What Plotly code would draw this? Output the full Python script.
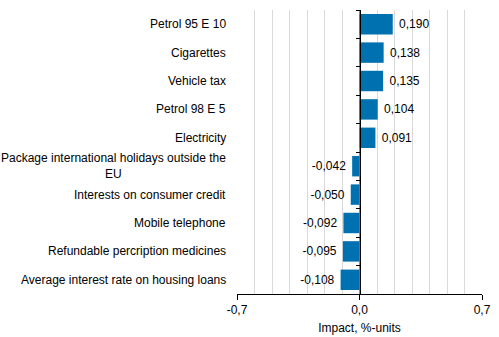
import plotly.graph_objects as go

categories = [
    "Petrol 95 E 10",
    "Cigarettes",
    "Vehicle tax",
    "Petrol 98 E 5",
    "Electricity",
    "Package international holidays outside the<br>EU",
    "Interests on consumer credit",
    "Mobile telephone",
    "Refundable percription medicines",
    "Average interest rate on housing loans",
]
values = [0.190, 0.138, 0.135, 0.104, 0.091, -0.042, -0.050, -0.092, -0.095, -0.108]
tick_vals = [-0.7, 0.0, 0.7]
tick_text = ["-0,7", "0,0", "0,7"]

FONT = "Liberation Sans, Arial, sans-serif"
idx = list(range(len(categories)))
labels = [(" " + f"{v:.3f}" if v >= 0 else f"{v:.3f}" + " ").replace(".", ",") for v in values]

fig = go.Figure()
fig.add_trace(go.Bar(
    x=values, y=idx, orientation="h",
    marker=dict(color="#0071B0", line=dict(width=0)),
    text=labels, textposition="outside", cliponaxis=False,
    textfont=dict(family=FONT, size=12, color="#000000"),
    width=0.72,
))

for i, c in enumerate(categories):
    fig.add_annotation(
        x=0, xref="paper", y=i, yref="y", text=c, showarrow=False,
        xanchor="right", xshift=-9, align="center",
        font=dict(family=FONT, size=12, color="#000000"),
    )

fig.update_layout(
    width=499, height=337,
    margin=dict(l=237, r=17, t=10, b=43),
    paper_bgcolor="white", plot_bgcolor="white",
    showlegend=False,
    font=dict(family=FONT, size=12, color="#000000"),
    xaxis=dict(
        range=[-0.7, 0.7], tickvals=tick_vals, ticktext=tick_text,
        showgrid=True, gridcolor="#8c8c8c", gridwidth=1,
        minor=dict(dtick=0.1, showgrid=True, gridcolor="#d9d9d9", gridwidth=1),
        zeroline=False, showline=True, linecolor="#000000", linewidth=1,
        ticks="outside", ticklen=5, tickcolor="#000000",
        title=dict(text="Impact, %-units", standoff=7, font=dict(size=12)),
        tickfont=dict(size=12), automargin=False,
    ),
    yaxis=dict(
        range=[len(categories) - 0.5, -0.5],
        tickvals=[i - 0.5 for i in range(len(categories) + 1)],
        showticklabels=False, showgrid=False, zeroline=False,
        showline=True, linecolor="#000000", linewidth=1,
        ticks="outside", ticklen=4, tickcolor="#000000",
        anchor="free", position=0.5, automargin=False,
    ),
)

fig.write_html("out.html")
